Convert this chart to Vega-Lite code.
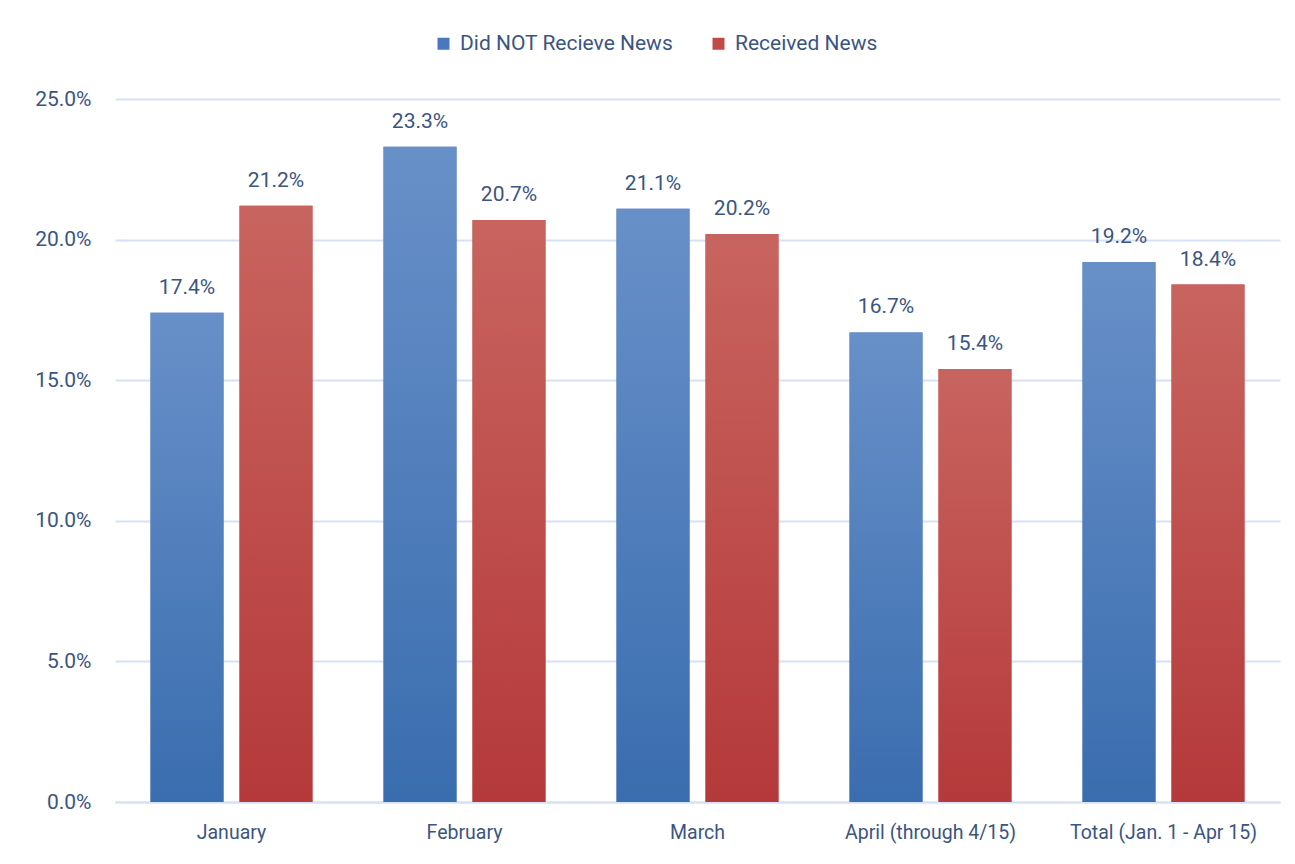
{
  "$schema": "https://vega.github.io/schema/vega-lite/v6.json",
  "width": 1165,
  "height": 703,
  "autosize": {"type": "none"},
  "padding": {"left": 115, "top": 99, "right": 15, "bottom": 62},
  "background": "white",
  "config": {
    "view": {"stroke": null},
    "font": "Roboto",
    "axis": {"labelFont": "Roboto", "labelFontSize": 20, "labelColor": "#3B5581", "labelLimit": 400, "labelOverlap": false},
    "legend": {"labelFont": "Roboto", "labelFontSize": 21, "labelColor": "#3B5581", "labelLimit": 400}
  },
  "data": {
    "values": [
      {"month": "January", "series": "Did NOT Recieve News", "value": 0.174},
      {"month": "January", "series": "Received News", "value": 0.212},
      {"month": "February", "series": "Did NOT Recieve News", "value": 0.233},
      {"month": "February", "series": "Received News", "value": 0.207},
      {"month": "March", "series": "Did NOT Recieve News", "value": 0.211},
      {"month": "March", "series": "Received News", "value": 0.202},
      {"month": "April (through 4/15)", "series": "Did NOT Recieve News", "value": 0.167},
      {"month": "April (through 4/15)", "series": "Received News", "value": 0.154},
      {"month": "Total (Jan. 1 - Apr 15)", "series": "Did NOT Recieve News", "value": 0.192},
      {"month": "Total (Jan. 1 - Apr 15)", "series": "Received News", "value": 0.184}
    ]
  },
  "encoding": {
    "x": {
      "field": "month", "type": "nominal", "sort": null,
      "scale": {"paddingInner": 0.305, "paddingOuter": 0.1525},
      "axis": {"title": null, "labelAngle": 0, "ticks": false, "domainColor": "#D6E2F3", "domainWidth": 2, "labelPadding": 21, "labelFontSize": 19.5, "labelOverlap": false}
    },
    "xOffset": {
      "field": "series", "type": "nominal",
      "scale": {"domain": ["Did NOT Recieve News", "Received News"], "paddingInner": 0.18, "paddingOuter": 0}
    },
    "y": {
      "field": "value", "type": "quantitative",
      "scale": {"domain": [0, 0.25], "nice": false},
      "axis": {"title": null, "format": ".1%", "values": [0, 0.05, 0.1, 0.15, 0.2, 0.25], "domain": false, "ticks": false, "labelPadding": 24, "labelFontSize": 21, "labelOverlap": false, "gridColor": "#D6E2F3", "gridWidth": 2}
    }
  },
  "layer": [
    {
      "mark": {"type": "bar"},
      "encoding": {
        "color": {
          "field": "series", "type": "nominal",
          "scale": {"domain": ["Did NOT Recieve News", "Received News"], "range": ["#4A78BE", "#C04A48"]},
          "legend": {"title": null, "orient": "none", "legendX": 318, "legendY": -66, "direction": "horizontal", "symbolType": "square", "symbolSize": 144, "columnPadding": 34, "labelOffset": 6}
        }
      }
    },
    {
      "transform": [{"filter": "datum.series === 'Did NOT Recieve News'"}],
      "mark": {"type": "bar", "fill": {"gradient": "linear", "x1": 0, "y1": 0, "x2": 0, "y2": 1, "stops": [{"offset": 0, "color": "#6890C8"}, {"offset": 1, "color": "#3A6DAF"}]}},
      "encoding": {}
    },
    {
      "transform": [{"filter": "datum.series === 'Received News'"}],
      "mark": {"type": "bar", "fill": {"gradient": "linear", "x1": 0, "y1": 0, "x2": 0, "y2": 1, "stops": [{"offset": 0, "color": "#C8645F"}, {"offset": 1, "color": "#B5393A"}]}},
      "encoding": {}
    },
    {
      "mark": {"type": "text", "baseline": "alphabetic", "dy": -19, "fontSize": 21, "color": "#3B5581", "font": "Roboto"},
      "encoding": {"text": {"field": "value", "type": "quantitative", "format": ".1%"}}
    }
  ]
}
